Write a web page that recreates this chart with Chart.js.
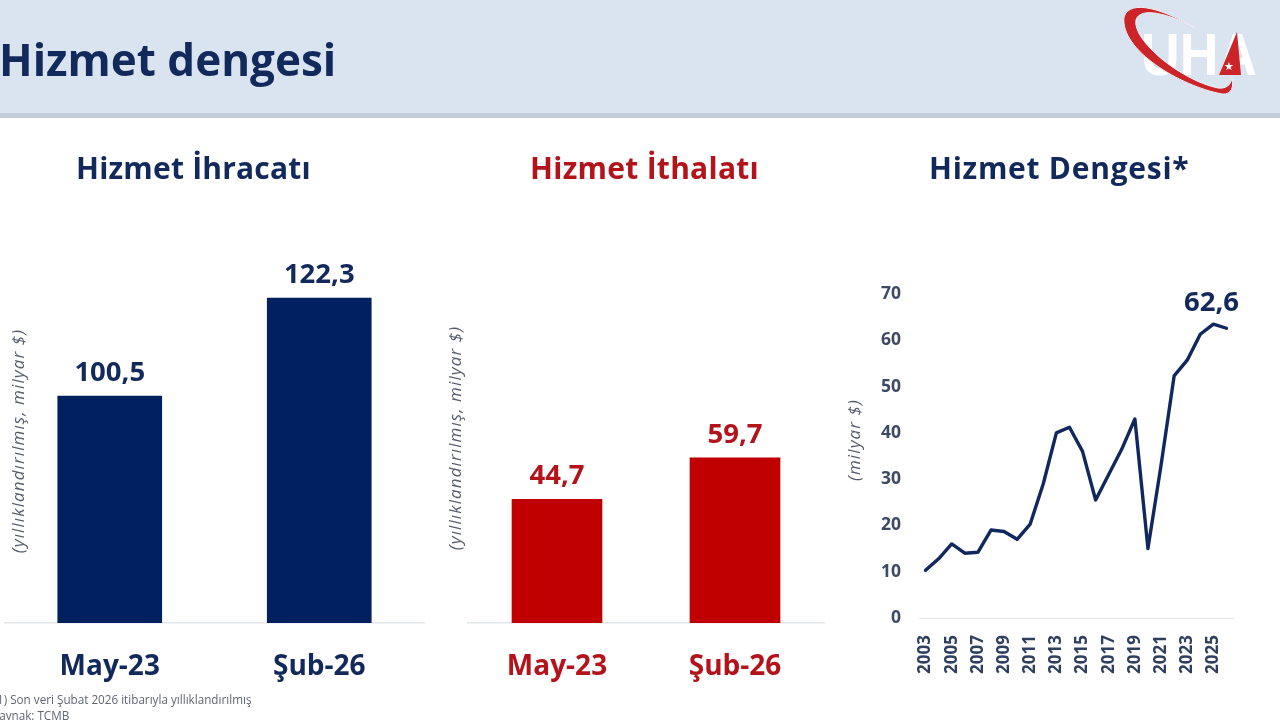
<!DOCTYPE html>
<html lang="tr">
<head>
<meta charset="utf-8">
<title>Hizmet dengesi</title>
<script src="https://cdn.jsdelivr.net/npm/chart.js@4"></script>
<style>
html,body{margin:0;padding:0;background:#fff;}
body{width:1280px;height:720px;position:relative;overflow:hidden;font-family:"Open Sans",sans-serif;}
#stage{position:absolute;inset:0;filter:blur(.6px);}
#head{position:absolute;left:0;top:0;width:1280px;height:113px;background:#dae3f0;border-bottom:5px solid #c3ccd9;box-sizing:content-box;}
.t{position:absolute;white-space:nowrap;font-weight:700;}
.rot{position:absolute;white-space:nowrap;font-style:italic;color:#555b6a;font-size:17px;letter-spacing:1.1px;transform:translate(-50%,-50%) rotate(-90deg);}
canvas{position:absolute;}
#logo{position:absolute;left:1110px;top:0;width:170px;height:110px;}
</style>
</head>
<body>
<div id="stage">
<div id="head"></div>
<div class="t" style="left:-1px;top:29px;font-size:44px;line-height:60px;color:#12295c;">Hizmet dengesi</div>
<svg id="logo" viewBox="1110 0 170 110" xmlns="http://www.w3.org/2000/svg">
  <text x="1141" y="75" font-family="Liberation Sans" font-weight="700" font-size="60" fill="#ffffff" textLength="116" lengthAdjust="spacingAndGlyphs">UHA</text>
  <path d="M1195 28 C1165 10 1130 -2 1124 17 C1120 50 1180 86 1222 94 C1232 95 1234 86 1232 78 C1231 85 1226 89 1218 88 C1180 80 1132 40 1136 20 C1140 6 1170 14 1195 28 Z" fill="#cc2529" stroke="#eef2f8" stroke-width="1"/>
  <path d="M1237 32 L1219 75 L1241 75 Z" fill="#cc2529"/>
  <text x="1229" y="70" font-family="Liberation Sans" font-size="11" fill="#ffffff" text-anchor="middle">★</text>
</svg>

<div class="t" style="left:76px;top:148px;font-size:30px;letter-spacing:.2px;line-height:40px;color:#12295c;">Hizmet İhracatı</div>
<div class="t" style="left:530px;top:148px;font-size:30px;letter-spacing:.27px;line-height:40px;color:#b3131b;">Hizmet İthalatı</div>
<div class="t" style="left:929px;top:148px;font-size:30px;letter-spacing:.73px;line-height:40px;color:#12295c;">Hizmet Dengesi*</div>

<div class="rot" style="left:17px;top:441px;">(yıllıklandırılmış, milyar $)</div>
<div class="rot" style="left:454px;top:438px;">(yıllıklandırılmış, milyar $)</div>
<div class="rot" style="left:853px;top:440px;">(milyar $)</div>

<canvas id="c1"></canvas>
<canvas id="c2"></canvas>
<canvas id="c3"></canvas>

<div class="t" style="left:-3px;top:692px;font-size:11.7px;line-height:14px;font-weight:400;color:#5f6675;">1) Son veri Şubat 2026 itibarıyla yıllıklandırılmış</div>
<div class="t" style="left:-8px;top:708px;font-size:11.7px;line-height:14px;font-weight:400;color:#5f6675;">Kaynak: TCMB</div>
</div>

<script>
const barCategories = ['May-23', 'Şub-26'];
const exportValues = [100.5, 122.3];
const importValues = [44.7, 59.7];
const years = ['2003','2004','2005','2006','2007','2008','2009','2010','2011','2012','2013','2014','2015','2016','2017','2018','2019','2020','2021','2022','2023','2024','2025','2026'];
const balanceValues = [10.3,12.8,16,14,14.2,19,18.7,17,20.3,29,40,41.2,36,25.5,31,36.5,43,15,33,52.3,55.7,61.3,63.5,62.6];
const balanceTicks = [0,10,20,30,40,50,60,70];

const NAVY = '#002060', RED = '#c00000', INK = '#12295c', FONT = '"Open Sans", sans-serif';
const fmt = v => v.toFixed(1).replace('.', ',');

const valueLabels = {
  id: 'valueLabels',
  afterDatasetsDraw(chart, args, o) {
    const ctx = chart.ctx, meta = chart.getDatasetMeta(0), data = chart.data.datasets[0].data;
    ctx.save();
    ctx.font = '700 ' + o.size + 'px ' + FONT;
    ctx.fillStyle = o.color;
    ctx.textAlign = 'center';
    ctx.textBaseline = 'bottom';
    (o.only || data.map((_, i) => i)).forEach(i => {
      const el = meta.data[i];
      ctx.fillText(fmt(data[i]), el.x + (o.dx || 0), el.y - o.gap);
    });
    ctx.restore();
  }
};

function barChart(id, values, color, inkColor, yMin, yMax, padL, padR, barW) {
  return new Chart(document.getElementById(id), {
    type: 'bar',
    data: { labels: barCategories, datasets: [{ data: values, backgroundColor: color, barThickness: barW }] },
    plugins: [valueLabels],
    options: {
      responsive: false, animation: false,
      layout: { padding: { left: padL, right: padR, top: 0, bottom: 0 } },
      plugins: { legend: { display: false }, tooltip: { enabled: false },
        valueLabels: { size: 27.5, color: inkColor, gap: 9 } },
      scales: {
        x: {
          grid: { display: false, drawTicks: false },
          border: { color: '#e3e6ea', width: 1.5 },
          ticks: { color: inkColor, font: { family: FONT, weight: '700', size: 28 }, padding: 27, maxRotation: 0 },
          afterFit(s) { s.height = 67; }
        },
        y: { display: false, min: yMin, max: yMax }
      }
    }
  });
}

function size(id, left, top, w, h) {
  const c = document.getElementById(id);
  c.width = w; c.height = h;
  c.style.left = left + 'px'; c.style.top = top + 'px';
  c.style.width = w + 'px'; c.style.height = h + 'px';
}
size('c1', 0, 250, 430, 440); size('c2', 460, 250, 375, 440); size('c3', 860, 270, 385, 410);

/* plot area: top 250, bottom 623 => 373 px */
barChart('c1', exportValues, NAVY, INK, 50, 50 + 373 / 4.495, 5, 6, 104);
barChart('c2', importValues, RED, '#b3131b', 0, 373 / 2.765, 8, 11, 90);

new Chart(document.getElementById('c3'), {
  type: 'line',
  data: { labels: years, datasets: [{ data: balanceValues, borderColor: '#10285e', borderWidth: 3.4, pointRadius: 0, tension: 0, fill: false, borderJoinStyle: 'round', borderCapStyle: 'round', clip: false }] },
  plugins: [valueLabels],
  options: {
    responsive: false, animation: false,
    layout: { padding: { top: 24, right: 12, left: 0, bottom: 0 } },
    plugins: { legend: { display: false }, tooltip: { enabled: false },
      valueLabels: { size: 27.5, color: INK, gap: 11, dx: -15, only: [years.length - 1] } },
    scales: {
      x: {
        offset: true,
        grid: { display: false, drawTicks: false },
        border: { color: '#e6e8ec', width: 1 },
        ticks: { color: '#2f3f5f', font: { family: FONT, weight: '700', size: 17 }, padding: 17, minRotation: 90, maxRotation: 90, autoSkip: true, maxTicksLimit: 12 },
        afterFit(s) { s.height = 62; s.paddingLeft = 0; s.paddingRight = 0; }
      },
      y: {
        min: 0, max: 70,
        afterBuildTicks(s) { s.ticks = balanceTicks.map(v => ({ value: v })); },
        grid: { display: false, drawTicks: false },
        border: { display: false },
        ticks: { color: '#3c4a63', font: { family: FONT, weight: '700', size: 17.5 }, padding: 18 },
        afterFit(s) { s.width = 59; s.paddingTop = 0; s.paddingBottom = 0; }
      }
    }
  }
});
</script>
</body>
</html>
